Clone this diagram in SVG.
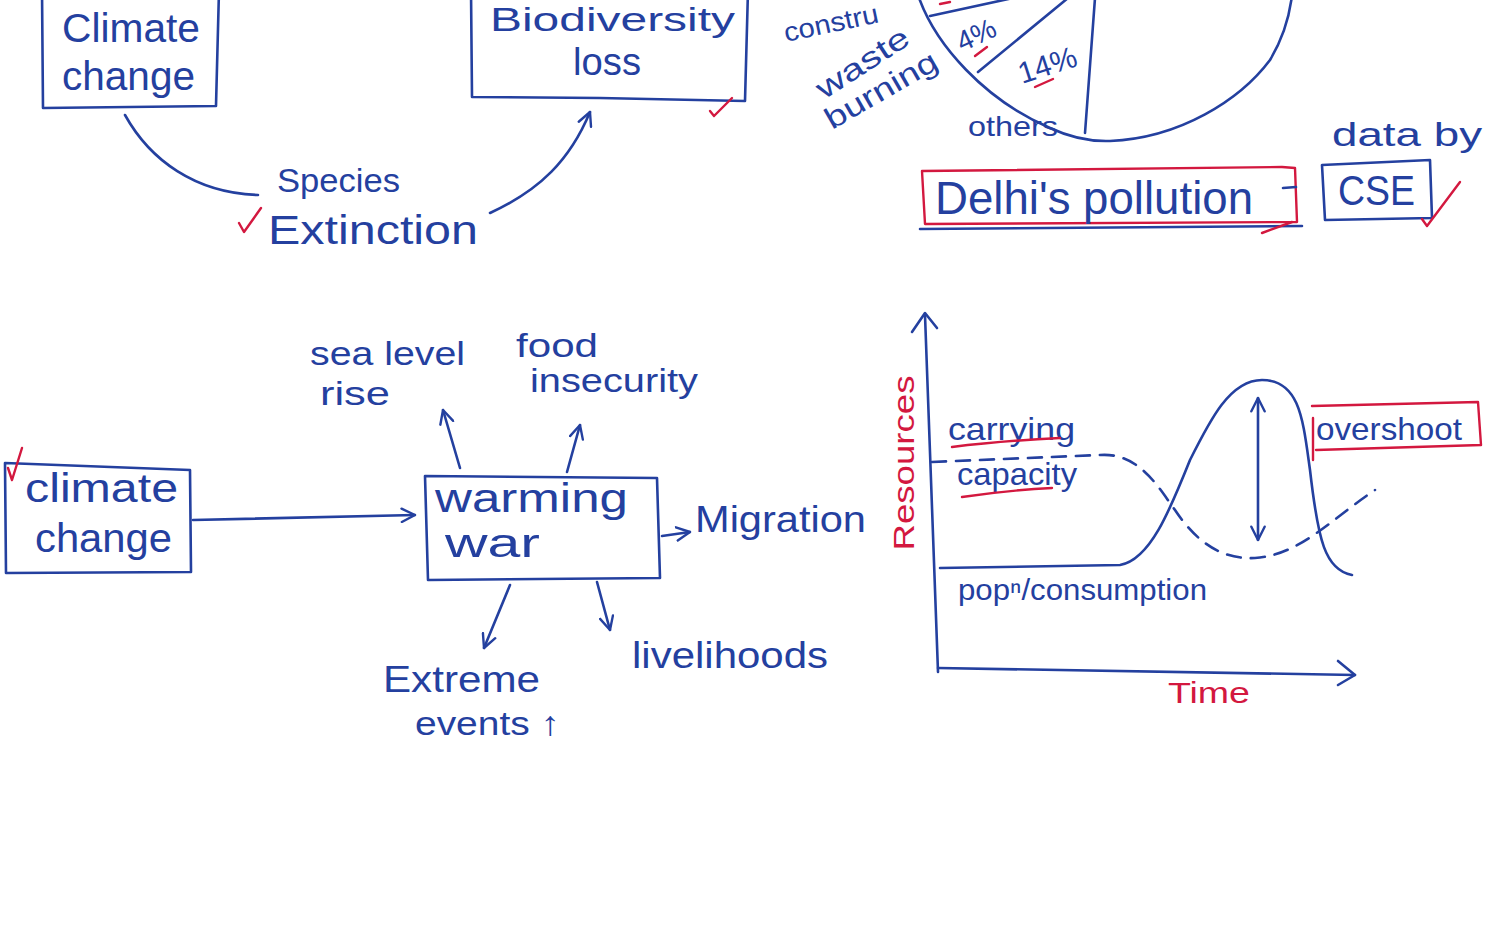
<svg xmlns="http://www.w3.org/2000/svg" width="1496" height="950" viewBox="0 0 1496 950">
<style>
.ink{fill:none;stroke:#24409f;stroke-width:2.6;stroke-linecap:round;stroke-linejoin:round}
.red{fill:none;stroke:#d3183f;stroke-width:2.4;stroke-linecap:round;stroke-linejoin:round}
.dash{stroke-dasharray:14 10}
.t{font-family:"Liberation Sans","DejaVu Sans",sans-serif;fill:#24409f}
.tr{font-family:"Liberation Sans","DejaVu Sans",sans-serif;fill:#d3183f}
</style>
<defs>
<marker id="arr" viewBox="0 0 12 12" refX="11" refY="6" markerWidth="16" markerHeight="16" markerUnits="userSpaceOnUse" orient="auto-start-reverse">
<path d="M1,1 L11,6 L1,11" fill="none" stroke="#24409f" stroke-width="1.8" stroke-linecap="round" stroke-linejoin="round"/>
</marker>
</defs>
<rect x="0" y="0" width="1496" height="950" fill="#ffffff"/>

<g id="climate-change-top">
<path class="ink" d="M42,-10 L43,108 L216,106 L219,-10"/>
<text class="t" x="62" y="42" font-size="40" textLength="138" lengthAdjust="spacingAndGlyphs">Climate</text>
<text class="t" x="62" y="90" font-size="40" textLength="133" lengthAdjust="spacingAndGlyphs">change</text>
</g>

<g id="species-extinction">
<text class="t" x="277" y="192" font-size="34" textLength="123" lengthAdjust="spacingAndGlyphs">Species</text>
<text class="t" x="268" y="244" font-size="40" textLength="210" lengthAdjust="spacingAndGlyphs">Extinction</text>
<path class="red" d="M239,223 L244,232 L261,208"/>
</g>

<g id="biodiversity-loss">
<path class="ink" d="M471,-10 L472,97 L600,98 L745,101 L748,-10"/>
<text class="t" x="490" y="31" font-size="34" textLength="245" lengthAdjust="spacingAndGlyphs">Biodiversity</text>
<text class="t" x="573" y="75" font-size="38" textLength="68" lengthAdjust="spacingAndGlyphs">loss</text>
<path class="red" d="M710,111 L714,116 L732,98"/>
</g>

<g id="pie-chart">
<path class="ink" d="M918,-5 C935,45 985,100 1050,128 Q1080,142 1110,141 C1180,138 1240,100 1270,60 Q1288,30 1292,-5"/>
<path class="ink" d="M930,16 L1013,-2"/>
<path class="ink" d="M978,72 L1068,-2"/>
<path class="ink" d="M1085,133 L1095,-2"/>
<path class="red" d="M940,4 L950,2"/>
<text class="t" x="786" y="42" font-size="27" transform="rotate(-12 786 42)" textLength="96" lengthAdjust="spacingAndGlyphs">constru</text>
<text class="t" x="824" y="100" font-size="30" transform="rotate(-33 824 100)" textLength="105" lengthAdjust="spacingAndGlyphs">waste</text>
<text class="t" x="832" y="130" font-size="30" transform="rotate(-30 832 130)" textLength="125" lengthAdjust="spacingAndGlyphs">burning</text>
<text class="t" x="962" y="52" font-size="28" transform="rotate(-25 962 52)">4%</text>
<path class="red" d="M975,56 L987,47"/>
<text class="t" x="1022" y="84" font-size="30" transform="rotate(-18 1022 84)">14%</text>
<path class="red" d="M1035,87 L1053,79"/>
<text class="t" x="968" y="136" font-size="28" textLength="90" lengthAdjust="spacingAndGlyphs">others</text>
</g>

<g id="delhi-pollution">
<path class="red" d="M922,171 L1282,167 L1295,168 L1297,222 L925,224 Z"/>
<path class="ink" d="M920,229 L1302,226"/>
<path class="red" d="M1262,233 L1292,222"/>
<text class="t" x="935" y="214" font-size="46" textLength="318" lengthAdjust="spacingAndGlyphs">Delhi's pollution</text>
<path class="ink" d="M1283,188 L1296,187"/>
</g>

<g id="cse">
<path class="ink" d="M1322,165 L1430,160 L1432,218 L1325,220 Z"/>
<text class="t" x="1338" y="205" font-size="42" textLength="77" lengthAdjust="spacingAndGlyphs">CSE</text>
<path class="red" d="M1422,219 L1427,226 L1460,182"/>
<text class="t" x="1332" y="146" font-size="34" textLength="150" lengthAdjust="spacingAndGlyphs">data by</text>
</g>

<g id="climate-change-bottom">
<path class="ink" d="M5,463 L190,470 L191,572 L6,573 Z"/>
<path class="red" d="M8,468 L12,480 L22,448"/>
<text class="t" x="25" y="502" font-size="40" textLength="153" lengthAdjust="spacingAndGlyphs">climate</text>
<text class="t" x="35" y="552" font-size="40" textLength="137" lengthAdjust="spacingAndGlyphs">change</text>
</g>

<g id="warming-war">
<path class="ink" d="M425,476 L657,478 L660,578 L428,580 Z"/>
<text class="t" x="435" y="512" font-size="40" textLength="193" lengthAdjust="spacingAndGlyphs">warming</text>
<text class="t" x="445" y="557" font-size="40" textLength="95" lengthAdjust="spacingAndGlyphs">war</text>
</g>

<g id="sea-level-rise">
<text class="t" x="310" y="365" font-size="34" textLength="155" lengthAdjust="spacingAndGlyphs">sea level</text>
<text class="t" x="320" y="405" font-size="34" textLength="70" lengthAdjust="spacingAndGlyphs">rise</text>
</g>
<g id="food-insecurity">
<text class="t" x="516" y="357" font-size="34" textLength="82" lengthAdjust="spacingAndGlyphs">food</text>
<text class="t" x="530" y="392" font-size="34" textLength="168" lengthAdjust="spacingAndGlyphs">insecurity</text>
</g>
<g id="migration">
<text class="t" x="695" y="532" font-size="36" textLength="171" lengthAdjust="spacingAndGlyphs">Migration</text>
</g>
<g id="extreme-events">
<text class="t" x="383" y="692" font-size="36" textLength="157" lengthAdjust="spacingAndGlyphs">Extreme</text>
<text class="t" x="415" y="735" font-size="34" textLength="145" lengthAdjust="spacingAndGlyphs">events ↑</text>
</g>
<g id="livelihoods">
<text class="t" x="632" y="668" font-size="36" textLength="196" lengthAdjust="spacingAndGlyphs">livelihoods</text>
</g>

<g id="graph">
<path class="ink" d="M938,672 L925,315"/>
<path class="ink" d="M912,332 L925,313 L937,328"/>
<path class="ink" d="M938,668 L1355,675"/>
<path class="ink" d="M1338,661 L1355,675 L1338,685"/>
<path class="ink dash" d="M932,462 L1100,455 C1140,452 1160,490 1175,510 C1195,540 1220,560 1255,558 C1300,555 1330,520 1375,490"/>
<path class="ink" d="M940,568 L1120,565 C1150,560 1170,510 1190,460 C1210,420 1230,380 1262,380 C1300,380 1303,420 1310,470 C1318,540 1325,570 1352,575"/>
<path class="ink" d="M1258,398 L1258,540" marker-start="url(#arr)" marker-end="url(#arr)"/>
<text class="tr" x="0" y="0" font-size="30" transform="translate(914 463) rotate(-90)" text-anchor="middle" textLength="175" lengthAdjust="spacingAndGlyphs">Resources</text>
<text class="tr" x="1168" y="703" font-size="30" textLength="82" lengthAdjust="spacingAndGlyphs">Time</text>
<text class="t" x="948" y="440" font-size="32" textLength="127" lengthAdjust="spacingAndGlyphs">carrying</text>
<path class="red" d="M952,447 Q1000,441 1060,438"/>
<text class="t" x="957" y="485" font-size="32" textLength="120" lengthAdjust="spacingAndGlyphs">capacity</text>
<path class="red" d="M962,497 Q1010,490 1052,488"/>
<text class="t" x="958" y="600" font-size="30" textLength="249" lengthAdjust="spacingAndGlyphs">popⁿ/consumption</text>
</g>

<g id="overshoot">
<path class="red" d="M1312,406 L1478,402 L1481,445 L1316,450"/>
<path class="red" d="M1313,418 L1313,460" stroke-width="3.5"/>
<text class="t" x="1316" y="440" font-size="32" textLength="146" lengthAdjust="spacingAndGlyphs">overshoot</text>
</g>

<g id="connectors">
<path class="ink" d="M125,115 C150,160 195,193 258,195"/>
<path class="ink" d="M490,213 C540,190 570,160 590,112" marker-end="url(#arr)"/>
<path class="ink" d="M193,520 L415,515" marker-end="url(#arr)"/>
<path class="ink" d="M662,536 L690,532" marker-end="url(#arr)"/>
<path class="ink" d="M460,468 L443,410" marker-end="url(#arr)"/>
<path class="ink" d="M567,472 L580,425" marker-end="url(#arr)"/>
<path class="ink" d="M510,585 L484,648" marker-end="url(#arr)"/>
<path class="ink" d="M597,582 L610,630" marker-end="url(#arr)"/>
</g>
</svg>
